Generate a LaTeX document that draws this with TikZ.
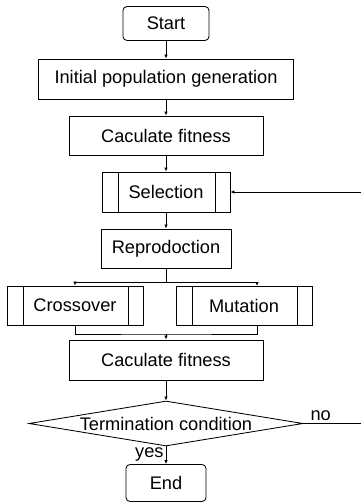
\documentclass[tikz,border=0pt]{standalone}
\usepackage{fontspec}
\setmainfont{Liberation Sans}
\usetikzlibrary{arrows.meta,shapes.geometric}

\begin{document}
\begin{tikzpicture}[x=1bp,y=-1bp,
    line width=0.85pt,
    font=\fontsize{18.3}{21}\selectfont,
    box/.style={draw, rectangle, inner sep=0pt, minimum height=39bp},
    terminal/.style={box, rounded corners=4bp, minimum height=34bp},
    subproc/.style={box, path picture={
      \draw ([xshift=16bp]path picture bounding box.north west) -- ([xshift=16bp]path picture bounding box.south west);
      \draw ([xshift=-15bp]path picture bounding box.north east) -- ([xshift=-15bp]path picture bounding box.south east);}},
    decision/.style={draw, diamond, inner sep=0pt, minimum width=274bp, minimum height=45bp},
    flow/.style={-{Latex[length=4bp,width=3.5bp]}}]
  \useasboundingbox (0,0) rectangle (361,503);

  \node[terminal, minimum width=86bp]                   (start) at (166,23.5)  {Start};
  \node[box, minimum width=255bp, minimum height=40bp]  (init)  at (166,79)    {Initial population generation};
  \node[box, minimum width=194bp]                       (fit1)  at (166,135.5) {Caculate fitness};
  \node[subproc, minimum width=128bp, minimum height=40bp] (sel) at (166,192)  {Selection};
  \node[box, minimum width=130bp]                       (repro) at (166,248.5) {Reprodoction};
  \node[subproc, minimum width=136bp]                   (cross) at (75,305.5)  {Crossover};
  \node[subproc, minimum width=136bp]                   (mut)   at (244,305.5) {Mutation};
  \node[box, minimum width=194bp, minimum height=40bp]  (fit2)  at (166,360)   {Caculate fitness};
  \node[decision, label={[name=termtext]center:Termination condition}] (term) at (166,423.5) {};
  \node[terminal, minimum width=80bp, minimum height=37bp] (end) at (166,483) {End};

  \coordinate (split)  at (166,282);
  \coordinate (mutin)  at (257,286);
  \coordinate (join)   at (166,334);
  \coordinate (mutout) at (257,325);
  \coordinate (noend)  at (361,423.5);
  \coordinate (loopin) at (361,192);

  \draw[flow] (start) -- (init);
  \draw[flow] (init) -- (fit1);
  \draw[flow] (fit1) -- (sel);
  \draw[flow] (sel) -- (repro);
  \draw[flow] (loopin) -- (sel.east);

  \draw (repro.south) -- (split);
  \draw[flow] (split) -| (cross.north);
  \draw[flow] (split) -| (mutin);
  \draw (cross.south) |- (join) -| (mutout);
  \draw[flow] (join) -- (fit2.north);

  \draw[flow] (fit2) -- (term.north);
  \draw (term.east) -- node[above, pos=0.3, inner sep=2bp] (no) {no} (noend);
  \draw[flow] (term.south) -- node[left, pos=0.45, inner sep=2bp] (yes) {yes} (end);
\end{tikzpicture}
\end{document}
